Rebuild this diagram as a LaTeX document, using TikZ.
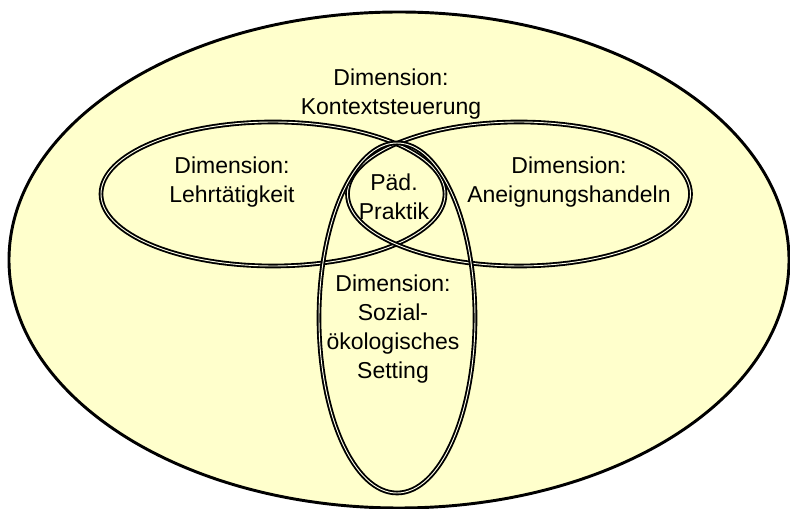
\documentclass[tikz,border=0pt]{standalone}
\usepackage{fontspec}
\setmainfont{Liberation Sans}
\usetikzlibrary{shapes.geometric}
\definecolor{paleyellow}{HTML}{FFFFCC}

\begin{document}
\begin{tikzpicture}[x=0.75pt, y=-0.75pt,
                    outer dim/.style={ellipse,draw,line width=2.2pt,fill=paleyellow,inner sep=0pt},
                    inner dim/.style={ellipse,draw,line width=1.4pt,double=paleyellow!40!white,
                                      double distance=0.7pt,inner sep=0pt},
                    label node/.style={align=center,inner sep=0pt,
                                       font=\fontsize{17.25}{21.75}\selectfont}]

  \useasboundingbox (0,0) rectangle (790,509);

  \node[outer dim, minimum width=780*0.75pt, minimum height=496*0.75pt] (kontext) at (399,260) {};
  \node[inner dim, minimum width=344*0.75pt, minimum height=144*0.75pt] (lehr) at (273,194) {};
  \node[inner dim, minimum width=343*0.75pt, minimum height=144*0.75pt] (aneig) at (519,194) {};
  \node[inner dim, minimum width=156*0.75pt, minimum height=350*0.75pt] (setting) at (397,318) {};

  \node[label node] (kontext text) at (391,94) {Dimension:\\Kontextsteuerung};
  \node[label node] (lehr text) at (232,182) {Dimension:\\Lehrtätigkeit};
  \node[label node] (aneig text) at (569,182) {Dimension:\\Aneignungshandeln};
  \node[label node] (praktik text) at (394,197) {Päd.\\Praktik};
  \node[label node] (setting text) at (393,329) {Dimension:\\Sozial-\\ökologisches\\Setting};

\end{tikzpicture}
\end{document}
